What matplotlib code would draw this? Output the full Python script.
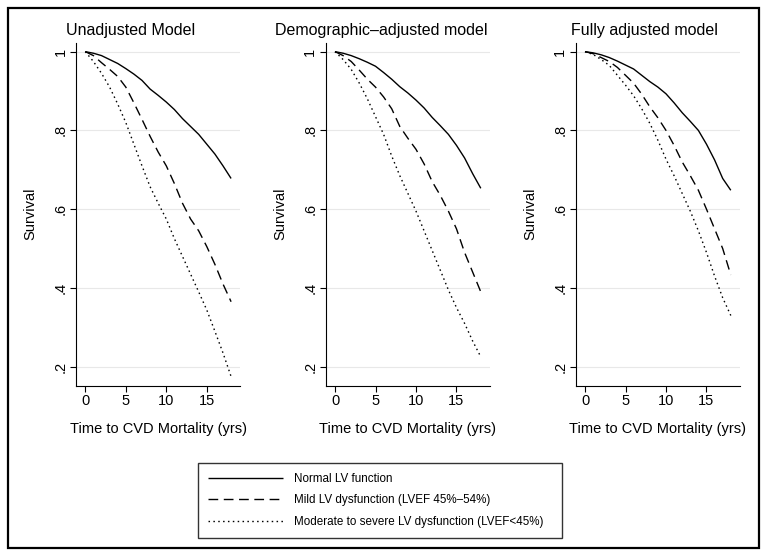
import matplotlib
matplotlib.use("Agg")
import matplotlib.pyplot as plt
from matplotlib.patches import Rectangle

plt.rcParams['font.family'] = ['Liberation Sans', 'DejaVu Sans']

# follow-up time (years)
years = list(range(0, 19))

# survival estimates
unadj_normal = [1.0, 0.996, 0.99, 0.98, 0.97, 0.957, 0.943, 0.927, 0.905, 0.889, 0.872,
                0.853, 0.83, 0.81, 0.79, 0.765, 0.74, 0.71, 0.678]
unadj_mild = [1.0, 0.99, 0.972, 0.955, 0.937, 0.91, 0.87, 0.828, 0.785, 0.745, 0.71,
              0.665, 0.615, 0.575, 0.545, 0.505, 0.46, 0.41, 0.365]
unadj_severe = [1.0, 0.975, 0.945, 0.91, 0.867, 0.82, 0.765, 0.71, 0.657, 0.615, 0.575,
                0.525, 0.48, 0.435, 0.39, 0.344, 0.29, 0.235, 0.175]

demo_normal = [1.0, 0.996, 0.99, 0.982, 0.973, 0.963, 0.947, 0.93, 0.911, 0.895, 0.877,
               0.857, 0.833, 0.812, 0.79, 0.762, 0.73, 0.69, 0.653]
demo_mild = [1.0, 0.99, 0.975, 0.953, 0.93, 0.91, 0.885, 0.855, 0.81, 0.78, 0.752,
             0.715, 0.67, 0.635, 0.595, 0.55, 0.49, 0.44, 0.39]
demo_severe = [1.0, 0.98, 0.955, 0.92, 0.88, 0.835, 0.79, 0.735, 0.685, 0.64, 0.595,
               0.545, 0.495, 0.445, 0.395, 0.35, 0.31, 0.265, 0.225]

full_normal = [1.0, 0.997, 0.992, 0.985, 0.976, 0.966, 0.956, 0.94, 0.924, 0.91, 0.893,
               0.87, 0.845, 0.823, 0.8, 0.765, 0.725, 0.678, 0.648]
full_mild = [1.0, 0.995, 0.985, 0.975, 0.96, 0.94, 0.92, 0.892, 0.86, 0.832, 0.8,
             0.762, 0.72, 0.685, 0.648, 0.6, 0.55, 0.5, 0.433]
full_severe = [1.0, 0.993, 0.98, 0.965, 0.94, 0.915, 0.888, 0.855, 0.818, 0.775, 0.727,
               0.685, 0.64, 0.595, 0.545, 0.49, 0.43, 0.375, 0.33]

titles = ["Unadjusted Model", "Demographic\u2013adjusted model", "Fully adjusted model"]
panels = [
    (unadj_normal, unadj_mild, unadj_severe),
    (demo_normal, demo_mild, demo_severe),
    (full_normal, full_mild, full_severe),
]
group_labels = ["Normal LV function",
                "Mild LV dysfunction (LVEF 45%\u201354%)",
                "Moderate to severe LV dysfunction (LVEF<45%)"]
styles = [(0, ()), (0, (7, 4)), (0, (1.1, 2.4))]

x_ticks = [0, 5, 10, 15]
y_ticks = [0.2, 0.4, 0.6, 0.8, 1.0]
y_ticklabels = [".2", ".4", ".6", ".8", "1"]

W, H = 770, 560
fig = plt.figure(figsize=(W / 100, H / 100), dpi=100)

ax_left = [76, 325.7, 575.7]
ax_w = 164
ax_top, ax_bot = 43, 386
title_x = [131, 381, 644]
ylabel_x = [30, 280, 530]

handles = []
for i, (curves, title) in enumerate(zip(panels, titles)):
    ax = fig.add_axes([ax_left[i] / W, 1 - ax_bot / H, ax_w / W, (ax_bot - ax_top) / H])
    for y, ls in zip(curves, styles):
        ln, = ax.plot(years, y, color='black', lw=1.0, linestyle=ls)
        if i == 0:
            handles.append(ln)
    ax.set_xlim(-1.15, 19.1)
    ax.set_ylim(0.151, 1.022)
    ax.set_xticks(x_ticks)
    ax.set_yticks(y_ticks)
    ax.set_yticklabels(y_ticklabels, rotation=90, va='center')
    ax.tick_params(labelsize=10.5, length=4, width=0.8, pad=2, color='black')
    for s in ['top', 'right']:
        ax.spines[s].set_visible(False)
    for s in ['left', 'bottom']:
        ax.spines[s].set_linewidth(0.8)
    ax.grid(axis='y', color='#e8e8e8', lw=0.8)
    ax.set_axisbelow(True)
    ax.set_xlabel("Time to CVD Mortality (yrs)", fontsize=10.5, labelpad=10)
    fig.text(ylabel_x[i] / W, 1 - 214 / H, "Survival", rotation=90,
             ha='center', va='center', fontsize=10.5)
    fig.text(title_x[i] / W, 1 - 30 / H, title, ha='center', va='center', fontsize=11.5)

leg = fig.legend(handles, group_labels, loc='center left',
                 bbox_to_anchor=(198 / W, 1 - 538 / H, 364 / W, 75 / H),
                 mode='expand', fontsize=8.4, handlelength=6.4, handletextpad=1.0,
                 labelspacing=0.8, borderpad=0.85, borderaxespad=0,
                 frameon=True, fancybox=False)
leg.get_frame().set_edgecolor('black')
leg.get_frame().set_linewidth(1.0)

fig.patches.append(Rectangle((8 / W, 1 - 548 / H), 751 / W, 540 / H,
                             transform=fig.transFigure, fill=False,
                             edgecolor='black', lw=1.6))

fig.savefig("out.png", dpi=100)
